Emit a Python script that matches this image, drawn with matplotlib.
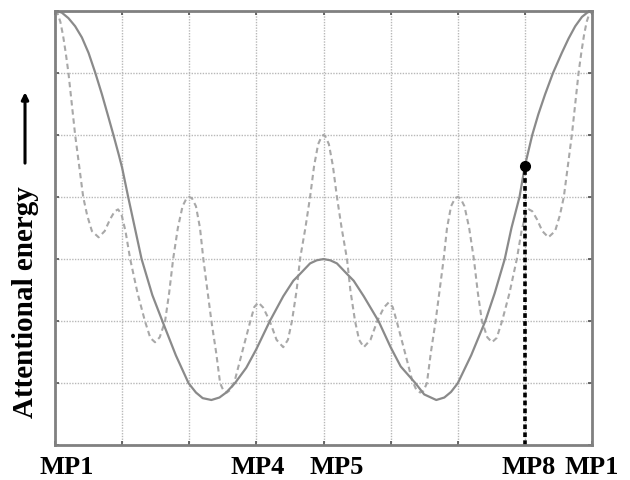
import numpy as np
import matplotlib
matplotlib.use('Agg')
import matplotlib.pyplot as plt

# Datos (x: posicion MP1..MP1 = 0..8, y: unidades de rejilla)
x_solida = [0, 0.1, 0.2, 0.3, 0.4, 0.5, 0.6, 0.7, 0.8, 0.87, 0.95, 1.0, 1.09, 1.2, 1.29,
            1.45, 1.6, 1.8, 1.99, 2.1, 2.2, 2.33, 2.45, 2.55, 2.68, 2.85, 3.0, 3.2, 3.4,
            3.55, 3.65, 3.8, 3.9, 4.0, 4.1, 4.2, 4.35, 4.45, 4.6, 4.82, 5.0, 5.15, 5.37,
            5.5, 5.68, 5.8, 5.9, 6.0, 6.2, 6.41, 6.55, 6.7, 6.8, 6.92, 7.0, 7.11, 7.2,
            7.3, 7.42, 7.55, 7.65, 7.75, 7.85, 7.93, 8.0]
y_solida = [7.0, 6.97, 6.88, 6.75, 6.57, 6.32, 6.0, 5.65, 5.27, 5.0, 4.68, 4.47, 4.0, 3.45, 3.0,
            2.42, 2.0, 1.45, 1.0, 0.85, 0.76, 0.73, 0.77, 0.85, 1.0, 1.25, 1.55, 2.0, 2.4,
            2.65, 2.76, 2.93, 2.98, 3.0, 2.98, 2.93, 2.76, 2.65, 2.4, 2.0, 1.58, 1.27, 1.0,
            0.82, 0.73, 0.77, 0.86, 1.0, 1.45, 2.0, 2.45, 3.0, 3.5, 4.0, 4.5, 5.0, 5.33,
            5.65, 6.0, 6.32, 6.55, 6.75, 6.9, 6.97, 7.0]

x_discontinua = [0, 0.04, 0.08, 0.12, 0.16, 0.2, 0.25, 0.3, 0.36, 0.42, 0.48, 0.55, 0.65,
                 0.74, 0.82, 0.89, 0.94, 0.99, 1.05, 1.12, 1.23, 1.34, 1.42, 1.49, 1.56,
                 1.64, 1.7, 1.76, 1.83, 1.9, 1.96, 2.0, 2.04, 2.1, 2.16, 2.21, 2.27, 2.33,
                 2.4, 2.46, 2.51, 2.56, 2.62, 2.68, 2.8, 2.91, 2.97, 3.03, 3.1, 3.2, 3.3,
                 3.4, 3.47, 3.53, 3.6, 3.65, 3.73, 3.8, 3.86, 3.92, 3.97, 4.0,
                 4.03, 4.08, 4.14, 4.2, 4.27, 4.35, 4.4, 4.47, 4.53, 4.6, 4.7, 4.8, 4.9,
                 4.97, 5.03, 5.09, 5.2, 5.32, 5.38, 5.44, 5.49, 5.54, 5.6, 5.67, 5.73,
                 5.79, 5.84, 5.9, 5.96, 6.0, 6.04, 6.1, 6.17, 6.24, 6.3, 6.36, 6.44, 6.51,
                 6.58, 6.66, 6.77, 6.88, 6.95, 7.01, 7.06, 7.11, 7.18, 7.26, 7.35, 7.45,
                 7.52, 7.58, 7.64, 7.7, 7.75, 7.8, 7.84, 7.88, 7.92, 7.96, 8.0]
y_discontinua = [7.0, 6.95, 6.82, 6.6, 6.32, 6.0, 5.5, 5.0, 4.5, 4.0, 3.7, 3.45, 3.35,
                 3.45, 3.64, 3.77, 3.8, 3.72, 3.45, 3.0, 2.45, 2.0, 1.73, 1.66, 1.74,
                 2.0, 2.45, 3.0, 3.5, 3.85, 3.98, 4.0, 3.98, 3.85, 3.5, 3.0, 2.5, 2.0,
                 1.5, 1.0, 0.88, 0.85, 0.9, 1.05, 1.55, 2.0, 2.23, 2.3, 2.22, 2.0, 1.7,
                 1.58, 1.7, 2.0, 2.5, 3.0, 3.5, 4.0, 4.5, 4.85, 4.97, 5.0,
                 4.97, 4.85, 4.5, 4.0, 3.5, 3.0, 2.5, 2.0, 1.7, 1.58, 1.7, 2.0, 2.22,
                 2.3, 2.23, 2.0, 1.55, 1.05, 0.9, 0.85, 0.88, 1.0, 1.5, 2.0, 2.5,
                 3.0, 3.5, 3.85, 3.98, 4.0, 3.98, 3.85, 3.5, 3.0, 2.45, 2.0, 1.74, 1.66,
                 1.73, 2.0, 2.45, 3.0, 3.45, 3.72, 3.8, 3.77, 3.64, 3.45, 3.35, 3.45,
                 3.7, 4.0, 4.5, 5.0, 5.5, 6.0, 6.32, 6.6, 6.82, 6.95, 7.0]

punto_x = 7.0
punto_y = 4.5

etiquetas = ['MP1', 'MP4', 'MP5', 'MP8', 'MP1']
pos_etiquetas = [0.17, 3.02, 4.2, 7.06, 8.0]

gris_borde = '#808080'

fig = plt.figure(figsize=(6.3, 4.81), dpi=100)
ax = fig.add_axes([0.0873, 0.0721, 0.8524, 0.9036])

ax.plot(x_discontinua, y_discontinua, color='#a8a8a8', lw=1.5, linestyle=(0, (2.6, 1.8)))
ax.plot(x_solida, y_solida, color='#8a8a8a', lw=1.6)
ax.plot([punto_x, punto_x], [0, punto_y], color='black', lw=2.6, linestyle=(0, (1.3, 0.9)))
ax.plot(punto_x, punto_y, 'o', color='black', markersize=7)

ax.set_xlim(0, 8)
ax.set_ylim(0, 7)
ax.set_xticks(np.arange(0, 9))
ax.set_yticks(np.arange(0, 8))
ax.set_xticklabels([])
ax.set_yticklabels([])
ax.tick_params(direction='in', length=3, width=1.2, color='#505050',
               top=True, right=True)
ax.grid(True, color='#b8b8b8', linestyle=(0, (1, 1)), lw=1)
for s in ax.spines.values():
    s.set_color(gris_borde)
    s.set_linewidth(2)

for etq, pos in zip(etiquetas, pos_etiquetas):
    ax.text(pos, -0.44, etq, transform=ax.transData, ha='center', va='baseline',
            fontsize=19, fontweight='bold', family='Liberation Serif', clip_on=False)

fig.text(0.040, 0.371, 'Attentional energy', rotation=90, ha='center', va='center',
         fontsize=21, fontweight='bold', family='Liberation Serif')
fig.add_artist(matplotlib.patches.FancyArrowPatch(
    (0.0397, 0.653), (0.0397, 0.812), transform=fig.transFigure,
    arrowstyle='-|>,head_length=4,head_width=2', color='black', lw=2.2))

fig.savefig('out.png', dpi=100)
